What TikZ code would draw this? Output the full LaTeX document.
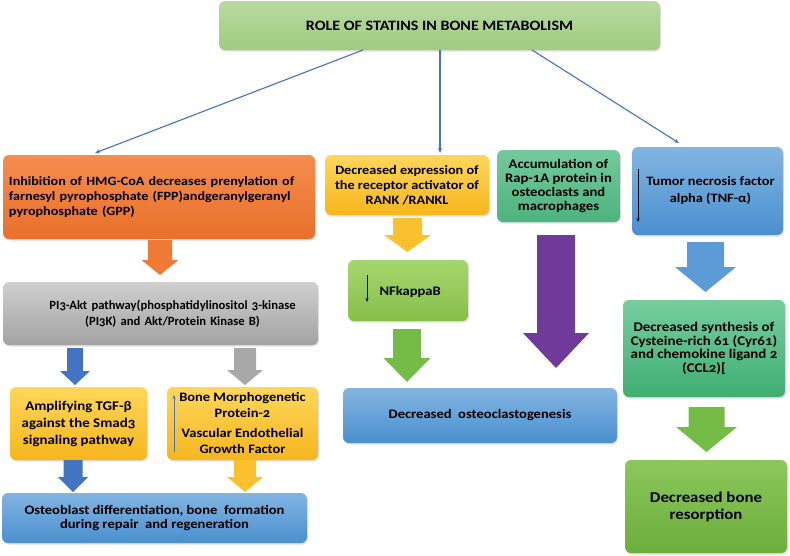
\documentclass[tikz,border=0pt]{standalone}
\usepackage{fontspec}
\setmainfont{Carlito}[Numbers=OldStyle, FakeStretch=1.12]
\newfontfamily\plainf{Carlito}[Numbers=OldStyle]
\usetikzlibrary{arrows.meta,shadows}
\definecolor{ttop}{HTML}{B8DA9F}\definecolor{tbot}{HTML}{A0CB80}
\definecolor{otop}{HTML}{F58D4F}\definecolor{obot}{HTML}{E8702A}
\definecolor{gtop}{HTML}{CFCFCF}\definecolor{gbot}{HTML}{A2A2A2}
\definecolor{ytop}{HTML}{FFD65A}\definecolor{ybot}{HTML}{F6B61E}
\definecolor{rtop}{HTML}{74C99C}\definecolor{rbot}{HTML}{4DB37F}
\definecolor{btop}{HTML}{82B5E2}\definecolor{bbot}{HTML}{4A8FCF}
\definecolor{ltop}{HTML}{A6D66E}\definecolor{lbot}{HTML}{86BF4A}
\definecolor{stop}{HTML}{76CD9E}\definecolor{sbot}{HTML}{3FAE73}
\definecolor{dtop}{HTML}{8CC75B}\definecolor{dbot}{HTML}{6CAE3C}
\definecolor{linec}{HTML}{4472C4}
\definecolor{aorange}{HTML}{EE7A33}
\definecolor{ablue}{HTML}{4274C2}
\definecolor{agray}{HTML}{A8A8A8}
\definecolor{ayellow}{HTML}{FBC02D}
\definecolor{agreen}{HTML}{74BC45}
\definecolor{apurple}{HTML}{6F3A9A}
\definecolor{ablue2}{HTML}{5C9BD6}
\newcommand\blkarrow[7]{\fill[#7] ({#1-#5},#2) -- ({#1+#5},#2) -- ({#1+#5},#3) -- ({#1+#6},#3) -- (#1,#4) -- ({#1-#6},#3) -- ({#1-#5},#3) -- cycle;}
\newcommand\fs[2]{\fontsize{#1}{#2}\selectfont\bfseries}
\tikzset{
  box/.style={rounded corners=6pt, align=center, inner sep=2pt,
    font=\fs{13}{15},
    drop shadow={opacity=0.25, shadow xshift=1pt, shadow yshift=-1.5pt}},
  titlebox/.style={box, top color=ttop, bottom color=tbot},
  orangebox/.style={box, top color=otop, bottom color=obot},
  graybox/.style={box, top color=gtop, bottom color=gbot},
  yellowbox/.style={box, top color=ytop, bottom color=ybot},
  rapbox/.style={box, top color=rtop, bottom color=rbot},
  bluebox/.style={box, top color=btop, bottom color=bbot},
  limebox/.style={box, top color=ltop, bottom color=lbot},
  synbox/.style={box, top color=stop, bottom color=sbot},
  resbox/.style={box, top color=dtop, bottom color=dbot},
  conn/.style={draw=linec, line width=1.1pt, -{Stealth[length=5pt,width=4pt]}},
  inarrow/.style={line width=0.8pt, -{Stealth[length=4pt,width=3pt]}}
}
\begin{document}
\begin{tikzpicture}[x=1pt,y=-1pt]
\useasboundingbox (0,0) rectangle (790,555);
% boxes
\node[titlebox, minimum width=441pt, minimum height=49pt, font=\fs{14.3}{16}] (title) at (439.5,25.5)
  {ROLE OF STATINS IN BONE METABOLISM};
\node[orangebox, minimum width=312pt, minimum height=84pt, text width=300pt, align=left, font=\fs{12.6}{15}] (hmg) at (159,197)
  {Inhibition of HMG-CoA decreases prenylation of\\farnesyl pyrophosphate (FPP)andgeranylgeranyl\\pyrophosphate (GPP)};
\node[graybox, minimum width=315pt, minimum height=63pt, text width=305pt, font={\plainf\fs{12.6}{16}}] (pi3) at (160.5,313.5)
  {\hspace*{24pt}PI3-Akt pathway(phosphatidylinositol 3-kinase\\\hspace*{24pt}(PI3K) and Akt/Protein Kinase B)};
\node[yellowbox, minimum width=137pt, minimum height=73pt, font=\fs{13.3}{17}] (amp) at (78.5,423.5)
  {Amplifying TGF-β\\against the Smad3\\signaling pathway};
\node[yellowbox, minimum width=151pt, minimum height=73pt, font=\fs{12.9}{16}] (bmp) at (242.5,423.5)
  {Bone Morphogenetic\\Protein-2\\[4pt]Vascular Endothelial\\Growth Factor};
\node[bluebox, minimum width=305pt, minimum height=50pt, font=\fs{13}{14.5}] (ost) at (154.5,518)
  {Osteoblast differentiation, bone~ formation\\during repair~ and regeneration};
\node[yellowbox, minimum width=164pt, minimum height=60pt, font=\fs{12.7}{15}] (rank) at (407,185)
  {Decreased expression of\\the receptor activator of\\RANK /RANKL};
\node[rapbox, minimum width=123pt, minimum height=72pt, font=\fs{13.1}{14}] (rap) at (558.5,186)
  {Accumulation of\\Rap-1A protein in\\osteoclasts and\\macrophages};
\node[bluebox, minimum width=151pt, minimum height=88pt, font=\fs{12.8}{17}] (tnf) at (707.5,191)
  {\hspace*{6pt}Tumor necrosis factor\\\hspace*{6pt}alpha (TNF-α)};
\node[limebox, minimum width=120pt, minimum height=61pt] (nfk) at (408,290.5) {};
\node[anchor=west, font=\fs{13}{15}] (nfkt) at (376,292) {NFkappaB};
\node[bluebox, minimum width=274pt, minimum height=55pt, font=\fs{13}{15}] (clast) at (480,415.5)
  {Decreased~ osteoclastogenesis};
\node[synbox, minimum width=162pt, minimum height=97pt, font=\fs{13.3}{13.6}] (syn) at (704,348.5)
  {Decreased synthesis of\\Cysteine-rich 61 (Cyr61)\\and chemokine ligand 2\\(CCL2)[};
\node[resbox, minimum width=162pt, minimum height=93pt, font=\fs{15}{17}] (res) at (706,506.5)
  {Decreased bone\\resorption};
% small arrows inside boxes
\draw[inarrow, draw=linec] (174,452) -- (174,395);
\draw[inarrow, draw=black] (638,169) -- (638,222);
\draw[inarrow, draw=blue!40!black] (367,275) -- (367,302);
% thin connectors from title
\coordinate (e1) at (95,153);
\coordinate (e2) at (440,153);
\coordinate (e3) at (679,143);
\draw[conn] (363,50) -- (e1);
\draw[conn] (440,50) -- (e2);
\draw[conn] (532,50) -- (e3);
% block arrows
\blkarrow{160}{240}{260}{275}{12}{18.5}{aorange}
\blkarrow{75}{348}{371}{385}{8}{15}{ablue}
\blkarrow{245}{348}{370}{385}{11}{18}{agray}
\blkarrow{73}{460}{477}{492}{9.5}{15}{ablue}
\blkarrow{245}{460}{477}{492}{11}{18}{ayellow}
\blkarrow{407.5}{218}{235}{252}{14.5}{23.5}{ayellow}
\blkarrow{407}{329}{358}{382}{14}{23.5}{agreen}
\blkarrow{556}{235}{333}{368}{19}{33}{apurple}
\blkarrow{705.5}{242}{267}{292}{18.5}{30.5}{ablue2}
\blkarrow{706.5}{407}{427}{452}{18}{30.5}{agreen}
\end{tikzpicture}
\end{document}
